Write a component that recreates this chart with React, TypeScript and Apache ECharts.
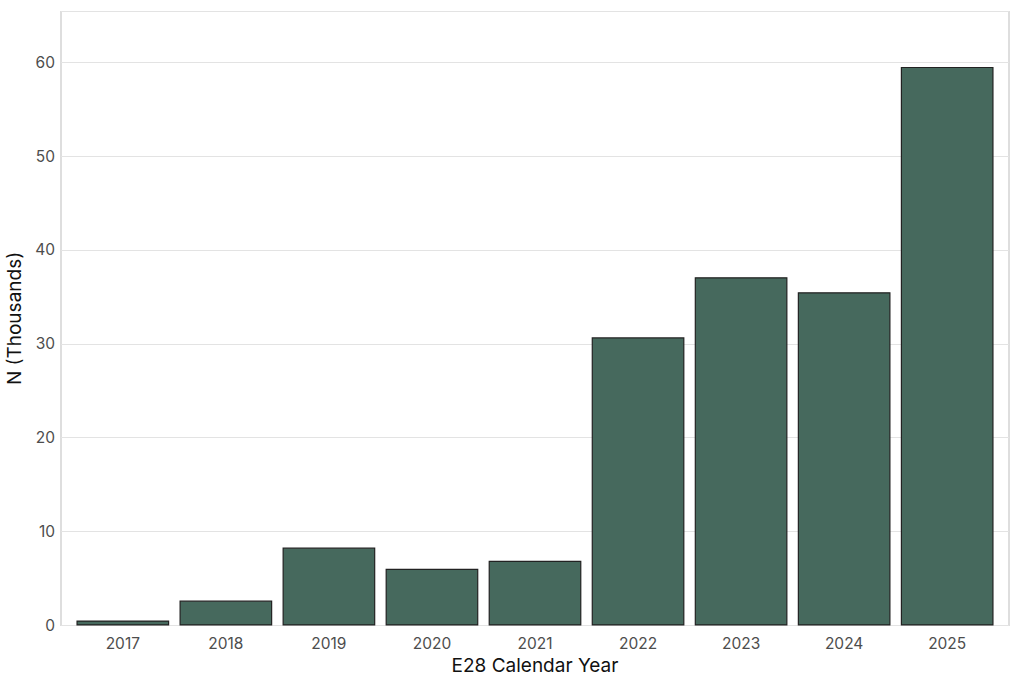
import React, { useEffect, useRef } from "react";
import * as echarts from "echarts";

const years = ["2017", "2018", "2019", "2020", "2021", "2022", "2023", "2024", "2025"];
const counts = [0.53, 2.66, 8.3, 6.05, 6.9, 30.7, 37.1, 35.5, 59.5];
const yTicks = [0, 10, 20, 30, 40, 50, 60];

const FONT = "Inter";
const Y_MAX = 65.4;

export default function App() {
  const ref = useRef<HTMLDivElement>(null);
  useEffect(() => {
    if (!ref.current) return;
    const chart = echarts.init(ref.current, undefined, { renderer: "svg" });
    const L = 61, R = 1024 - 1009, T = 11.5, B = 684 - 625.5;
    const unit = (1009 - 61) / 9.2;
    const pad = 0.1 * unit;
    chart.setOption({
      animation: false,
      backgroundColor: "#ffffff",
      textStyle: { fontFamily: FONT },
      grid: [
        { left: L, right: R, top: T, bottom: B, show: true, borderColor: "#c8c8c8", borderWidth: 1.2, backgroundColor: "transparent", containLabel: false, outerBoundsMode: "none" },
        { left: L + pad, right: R + pad, top: T, bottom: B, containLabel: false, outerBoundsMode: "none" },
      ],
      xAxis: [
        { type: "value", gridIndex: 0, min: 0, max: 1, show: false, splitLine: { show: false } },
        {
          type: "category",
          gridIndex: 1,
          data: years,
          axisLine: { show: false },
          axisTick: { show: false },
          axisLabel: { color: "#4d4d4d", fontSize: 15.5, fontFamily: FONT, margin: 10 },
          name: "E28 Calendar Year",
          nameLocation: "middle",
          nameGap: 29,
          nameTextStyle: { color: "#111", fontSize: 19, fontFamily: FONT },
        },
      ],
      yAxis: [
        {
          type: "value",
          gridIndex: 0,
          min: 0,
          max: Y_MAX,
          interval: 10,
          axisLine: { show: false },
          axisTick: { show: false },
          splitLine: { lineStyle: { color: "#e3e3e3", width: 1.2 } },
          axisLabel: {
            color: "#4d4d4d",
            fontSize: 15.5,
            fontFamily: FONT,
            margin: 6,
            customValues: yTicks,
          },
          name: "N (Thousands)",
          nameLocation: "middle",
          nameGap: 33,
          nameTextStyle: { color: "#111", fontSize: 19, fontFamily: FONT },
        },
        { type: "value", gridIndex: 1, min: 0, max: Y_MAX, show: false, splitLine: { show: false } },
      ],
      series: [
        {
          type: "bar",
          xAxisIndex: 1,
          yAxisIndex: 1,
          data: counts,
          barCategoryGap: "10%",
          itemStyle: { color: "#46695d", borderColor: "#222222", borderWidth: 1.2 },
        },
      ],
    });
    return () => chart.dispose();
  }, []);
  return (
    <div
      ref={ref}
      style={{ position: "fixed", left: 0, top: 0, width: 1024, height: 684, background: "#fff" }}
    />
  );
}
